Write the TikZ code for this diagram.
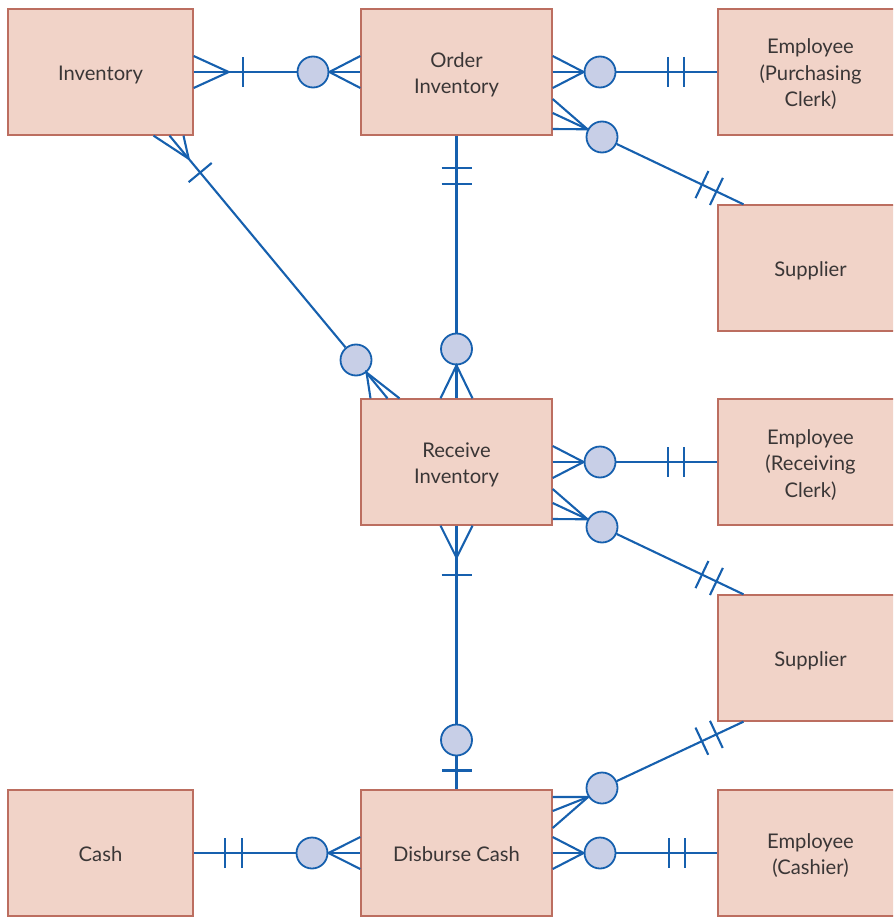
\documentclass[tikz,border=0pt]{standalone}
\usepackage{fontspec}
\setmainfont{Lato}
\usetikzlibrary{calc}
\definecolor{entfill}{HTML}{F1D3C8}
\definecolor{entline}{HTML}{BC6E60}
\definecolor{relblue}{HTML}{1660AE}
\definecolor{optfill}{HTML}{C8CFE7}
\definecolor{txt}{HTML}{3A3636}
% cross bar on a relationship line: #2 = end at the entity, #3 = other end,
% #4 = distance from #2, #1 = extra options
\newcommand\erbar[4][]{%
  \path ($(#2)!#4!(#3)$) coordinate (barmid);
  \draw[link,#1] ($(barmid)!15pt!90:(#2)$) -- ($(barmid)!15pt!-90:(#2)$);}
% invisible strut that fixes the room above the first line of an entity label
\newcommand\firstln{\rule{0pt}{23pt}}
\begin{document}
\begin{tikzpicture}[x=1pt,y=-1pt,
  entity/.style={draw=entline, fill=entfill, line width=1.3pt,
    minimum width=185pt, minimum height=126pt, inner sep=0pt,
    align=center, text=txt, font=\fontsize{20.2}{26.5}\selectfont,
    execute at end node={\rule[-6pt]{0pt}{6pt}}},
  wide/.style={minimum width=191pt},
  zero/.style={circle, draw=relblue, fill=optfill, line width=1.8pt,
    minimum size=31pt, inner sep=0pt},
  link/.style={draw=relblue, line width=2.1pt},
]
\useasboundingbox (0,0) rectangle (893,917);
\clip (0,0) rectangle (893,917);

% entities
\node[entity] (inv) at (100.5,72) {\firstln Inventory};
\node[entity,wide] (ord) at (456.5,72) {\firstln Order\\Inventory};
\node[entity] (epc) at (810.5,72) {\firstln Employee\\(Purchasing\\Clerk)};
\node[entity] (sup1) at (810.5,268) {\firstln Supplier};
\node[entity,wide] (rec) at (456.5,462) {\firstln Receive\\Inventory};
\node[entity] (erc) at (810.5,462) {\firstln Employee\\(Receiving\\Clerk)};
\node[entity] (sup2) at (810.5,658) {\firstln Supplier};
\node[entity] (cash) at (100.5,853) {\firstln Cash};
\node[entity,wide] (dis) at (456.5,853) {\firstln Disburse Cash};
\node[entity] (ecs) at (810.5,853) {\firstln Employee\\(Cashier)};

% optional-participation circles
\node[zero] (z1) at (313,72) {};
\node[zero] (z2) at (600,72) {};
\node[zero] (z3) at (602,137) {};
\node[zero] (z4) at (356,360) {};
\node[zero] (z5) at (456.5,349) {};
\node[zero] (z6) at (600,462) {};
\node[zero] (z7) at (602,527) {};
\node[zero] (z8) at (456.5,740) {};
\node[zero] (z9) at (602,788) {};
\node[zero] (z10) at (600,853) {};
\node[zero] (z11) at (312,853) {};

% Inventory -- Order Inventory
\draw[link] ($(inv.east)+(0,-16)$) -- ($(inv.east)+(35,0)$) -- ($(inv.east)+(0,16)$);
\draw[link] (inv.east) -- (z1);
\erbar{inv.east}{z1}{49pt}
\draw[link] ($(ord.west)+(0,-16)$) -- (z1.east) -- ($(ord.west)+(0,16)$);
\draw[link] (z1.east) -- (ord.west);

% Order Inventory -- Employee (Purchasing Clerk)
\draw[link] ($(ord.east)+(0,-16)$) -- (z2.west) -- ($(ord.east)+(0,16)$);
\draw[link] (ord.east) -- (z2.west);
\draw[link] (z2.east) -- (z2 -| epc.west);
\erbar{epc.west}{z2}{33pt}
\erbar{epc.west}{z2}{49pt}

% Order Inventory -- Supplier
\coordinate (s1a) at ($(sup1.north)+(-67,0)$);
\draw[link] ($(ord.east)+(0,27)$) -- (z3.152);
\draw[link] ($(ord.east)+(0,41)$) -- (z3.152);
\draw[link] ($(ord.east)+(0,57)$) -- (z3.152);
\draw[link] (z3) -- (s1a);
\erbar{s1a}{z3}{30pt}
\erbar{s1a}{z3}{46pt}

% Inventory -- Receive Inventory
\coordinate (i4) at ($(inv.south)+(69,0)$);
\coordinate (r4) at ($(rec.north)+(-69,0)$);
\draw[link] ($(inv.south)+(53,0)$) -- ($(i4)!30pt!(z4)$) -- ($(inv.south)+(83,0)$);
\draw[link] (i4) -- (z4);
\erbar{i4}{z4}{48pt}
\draw[link] ($(rec.north)+(-86,0)$) -- (z4.-50) -- ($(rec.north)+(-57,0)$);
\draw[link] (z4) -- (r4);

% Order Inventory -- Receive Inventory
\draw[link] (ord.south) -- (z5);
\erbar{ord.south}{z5}{32pt}
\erbar{ord.south}{z5}{48pt}
\draw[link] ($(rec.north)+(-16,0)$) -- (z5.south) -- ($(rec.north)+(16,0)$);
\draw[link] (z5) -- (rec.north);

% Receive Inventory -- Employee (Receiving Clerk)
\draw[link] ($(rec.east)+(0,-16)$) -- (z6.west) -- ($(rec.east)+(0,16)$);
\draw[link] (rec.east) -- (z6.west);
\draw[link] (z6.east) -- (z6 -| erc.west);
\erbar{erc.west}{z6}{33pt}
\erbar{erc.west}{z6}{49pt}

% Receive Inventory -- Supplier
\coordinate (s2a) at ($(sup2.north)+(-67,0)$);
\draw[link] ($(rec.east)+(0,27)$) -- (z7.152);
\draw[link] ($(rec.east)+(0,41)$) -- (z7.152);
\draw[link] ($(rec.east)+(0,57)$) -- (z7.152);
\draw[link] (z7) -- (s2a);
\erbar{s2a}{z7}{30pt}
\erbar{s2a}{z7}{46pt}

% Receive Inventory -- Disburse Cash
\draw[link] ($(rec.south)+(-16,0)$) -- ($(rec.south)+(0,32)$) -- ($(rec.south)+(16,0)$);
\draw[link] (rec.south) -- (z8);
\erbar{rec.south}{z8}{49pt}
\draw[link] (z8) -- (dis.north);
\erbar[line width=2.8pt]{dis.north}{z8}{19pt}

% Disburse Cash -- Supplier
\coordinate (s2b) at ($(sup2.south)+(-67,0)$);
\draw[link] ($(dis.east)+(0,-56)$) -- (z9.-147);
\draw[link] ($(dis.east)+(0,-42)$) -- (z9.-147);
\draw[link] ($(dis.east)+(0,-25)$) -- (z9.-147);
\draw[link] (z9) -- (s2b);
\erbar{s2b}{z9}{30pt}
\erbar{s2b}{z9}{46pt}

% Disburse Cash -- Employee (Cashier)
\draw[link] ($(dis.east)+(0,-16)$) -- (z10.west) -- ($(dis.east)+(0,16)$);
\draw[link] (dis.east) -- (z10.west);
\draw[link] (z10.east) -- (z10 -| ecs.west);
\erbar{ecs.west}{z10}{32pt}
\erbar{ecs.west}{z10}{48pt}

% Cash -- Disburse Cash
\draw[link] (cash.east) -- (z11);
\erbar{cash.east}{z11}{31pt}
\erbar{cash.east}{z11}{48pt}
\draw[link] ($(dis.west)+(0,-16)$) -- (z11.east) -- ($(dis.west)+(0,16)$);
\draw[link] (z11.east) -- (dis.west);
\end{tikzpicture}
\end{document}
